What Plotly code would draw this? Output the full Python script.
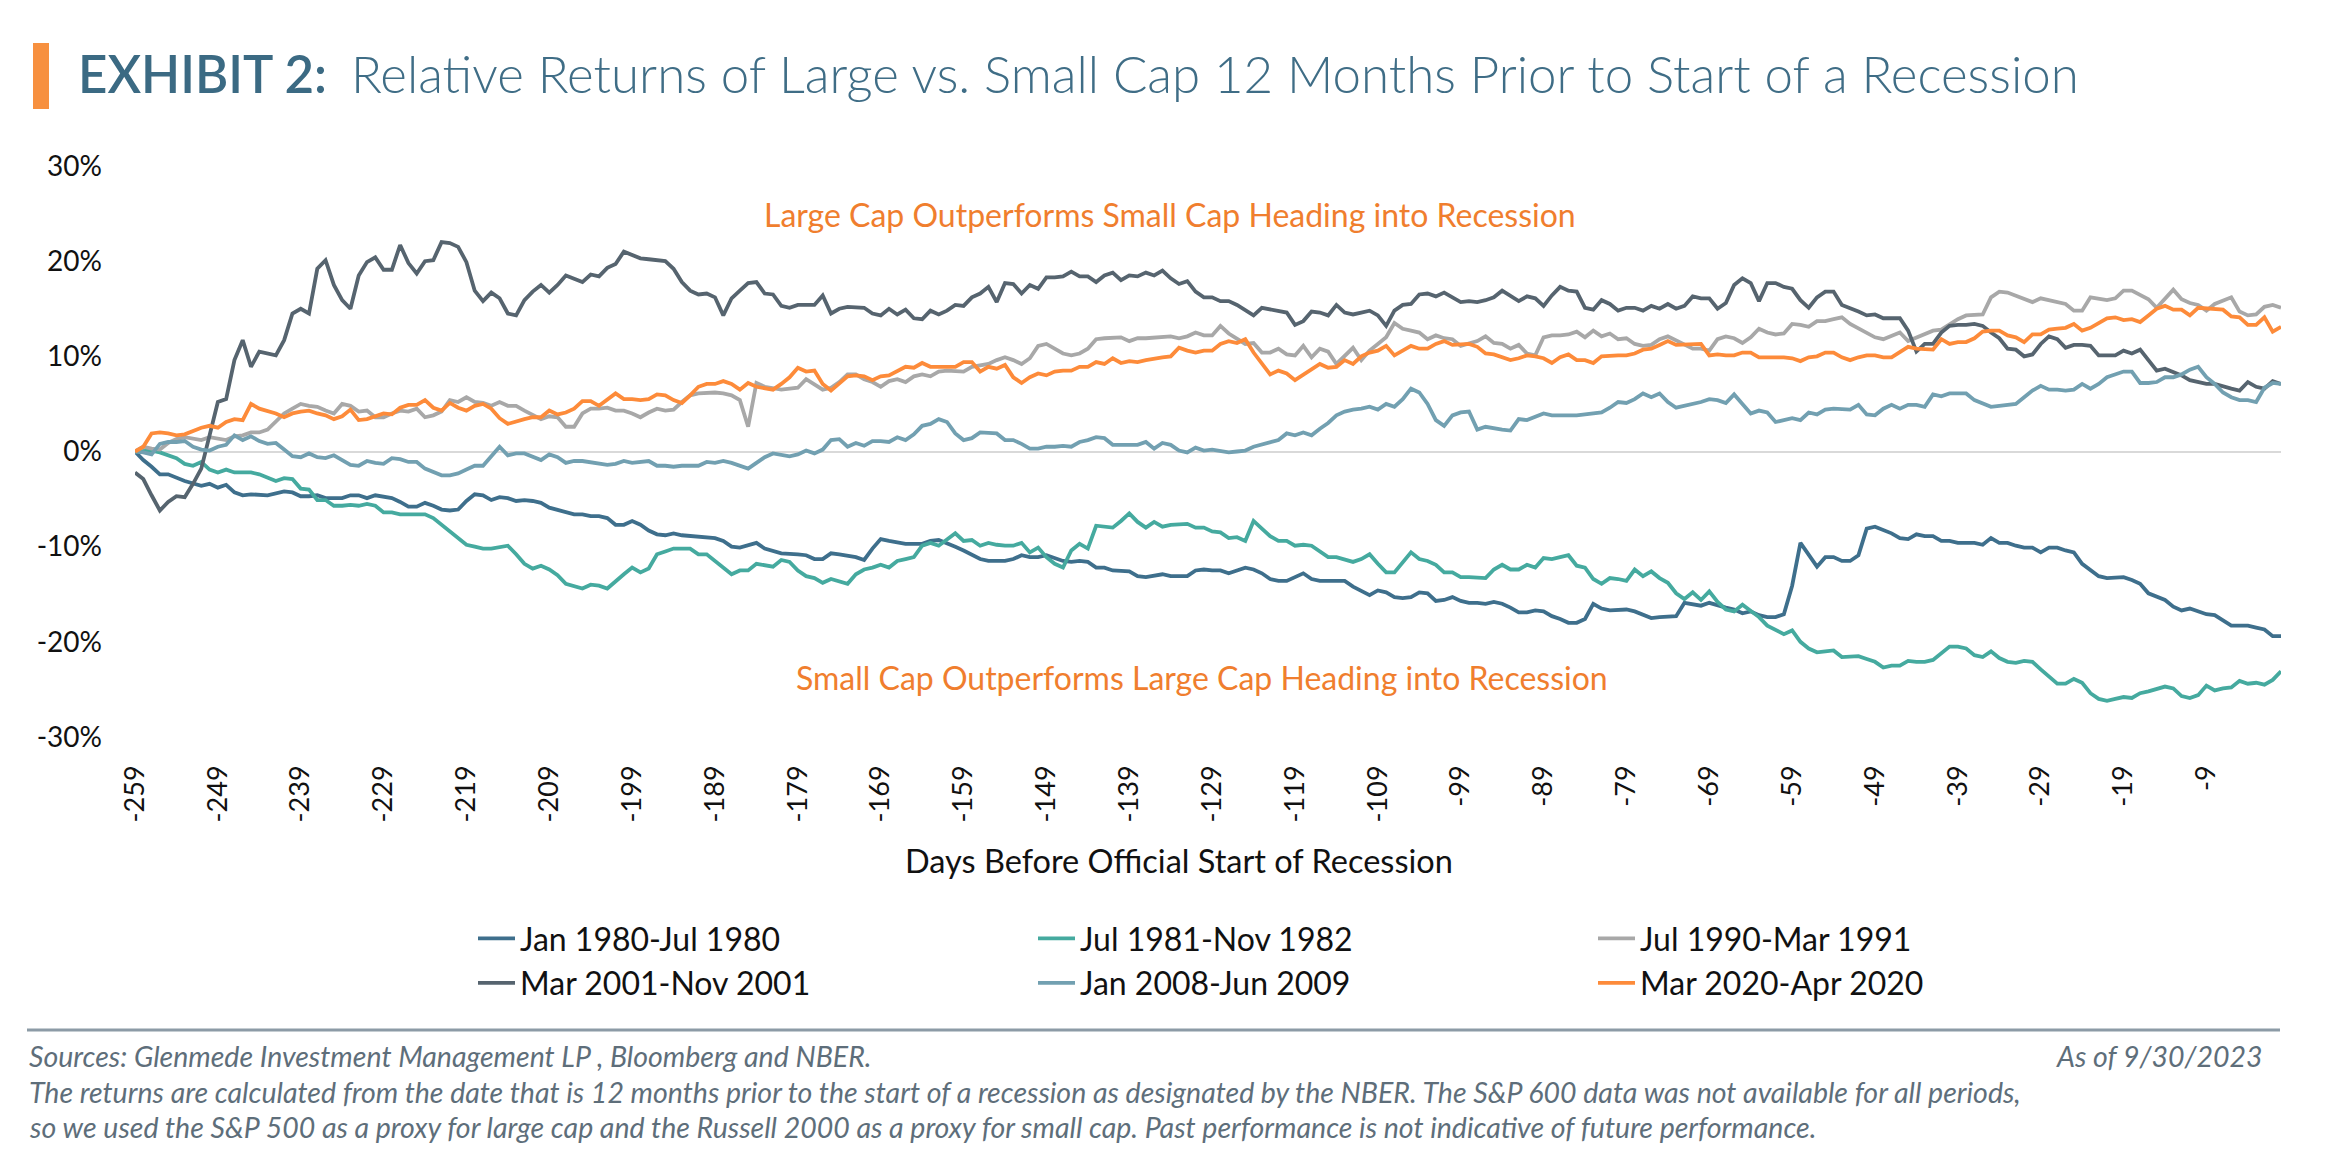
import plotly.graph_objects as go

# ---------------- data (relative return, % ; day before recession start) ----------------
jan1980 = [(-259,0.0),(-258,-0.9),(-257,-1.6),(-256,-2.4),(-255,-2.4),(-253,-3.1),(-251,-3.6),(-250,-3.4),(-249,-3.8),(-248,-3.5),
(-247,-4.3),(-246,-4.6),(-245,-4.5),(-244,-4.5),(-243,-4.6),(-241,-4.2),(-240,-4.3),(-239,-4.7),(-238,-4.7),(-237,-4.6),
(-236,-4.9),(-234,-4.9),(-233,-4.6),(-232,-4.6),(-231,-4.9),(-230,-4.6),(-229,-4.8),(-228,-4.9),(-227,-5.3),(-226,-5.8),
(-225,-5.8),(-224,-5.4),(-223,-5.7),(-222,-6.1),(-221,-6.2),(-220,-6.1),(-219,-5.2),(-218,-4.5),(-217,-4.6),(-216,-5.1),
(-215,-4.8),(-214,-4.9),(-213,-5.2),(-212,-5.1),(-211,-5.2),(-210,-5.4),(-209,-5.9),(-207,-6.4),(-206,-6.6),(-205,-6.6),
(-204,-6.8),(-203,-6.8),(-202,-7.0),(-201,-7.7),(-200,-7.7),(-199,-7.3),(-198,-7.7),(-197,-8.3),(-196,-8.7),(-195,-8.8),
(-194,-8.6),(-193,-8.8),(-191,-8.9),(-189,-9.1),(-188,-9.4),(-187,-10.0),(-186,-10.1),(-185,-9.9),(-184,-9.6),(-183,-10.2),
(-181,-10.7),(-179,-10.8),(-178,-10.9),(-177,-11.3),(-176,-11.3),(-175,-10.7),(-174,-10.8),(-172,-11.1),(-171,-11.4),(-170,-10.2),
(-169,-9.2),(-168,-9.4),(-167,-9.6),(-166,-9.7),(-164,-9.7),(-163,-9.4),(-162,-9.3),(-161,-9.6),(-160,-10.0),(-159,-10.4),
(-158,-10.9),(-157,-11.3),(-156,-11.5),(-154,-11.5),(-153,-11.3),(-152,-10.9),(-151,-11.1),(-150,-11.1),(-149,-10.9),(-148,-11.2),
(-147,-11.5),(-146,-11.6),(-145,-11.5),(-144,-11.6),(-143,-12.2),(-142,-12.2),(-141,-12.5),(-139,-12.6),(-138,-13.1),(-137,-13.2),
(-136,-13.1),(-135,-12.9),(-134,-13.1),(-132,-13.1),(-131,-12.5),(-130,-12.4),(-129,-12.5),(-128,-12.5),(-127,-12.8),(-126,-12.5),
(-125,-12.2),(-124,-12.4),(-123,-12.8),(-122,-13.4),(-121,-13.6),(-120,-13.6),(-119,-13.2),(-118,-12.8),(-117,-13.4),(-116,-13.6),
(-114,-13.6),(-113,-13.6),(-112,-14.2),(-111,-14.7),(-110,-15.1),(-109,-14.6),(-108,-14.8),(-107,-15.3),(-106,-15.4),(-105,-15.3),
(-104,-14.8),(-103,-14.9),(-102,-15.7),(-101,-15.6),(-100,-15.3),(-99,-15.7),(-98,-15.9),(-97,-15.9),(-96,-16.0),(-95,-15.8),
(-94,-16.0),(-93,-16.4),(-92,-16.9),(-91,-16.9),(-90,-16.7),(-89,-16.8),(-88,-17.3),(-87,-17.6),(-86,-18.0),(-85,-18.0),
(-84,-17.6),(-83,-16.0),(-82,-16.5),(-81,-16.7),(-80,-16.7),(-79,-16.6),(-78,-16.8),(-77,-17.2),(-76,-17.5),(-75,-17.4),
(-74,-17.3),(-73,-17.3),(-72,-15.9),(-71,-16.1),(-70,-16.2),(-69,-15.9),(-68,-16.2),(-67,-16.4),(-66,-16.6),(-65,-17.0),
(-64,-16.8),(-63,-17.2),(-62,-17.4),(-61,-17.4),(-60,-17.1),(-59,-14.1),(-58,-9.6),(-57,-10.9),(-56,-12.1),(-55,-11.1),
(-54,-11.1),(-53,-11.5),(-52,-11.5),(-51,-10.9),(-50,-8.1),(-49,-7.9),(-48,-8.2),(-47,-8.6),(-46,-9.1),(-45,-9.2),
(-44,-8.7),(-43,-8.9),(-42,-8.9),(-41,-9.4),(-40,-9.4),(-39,-9.6),(-38,-9.6),(-37,-9.6),(-36,-9.8),(-35,-9.1),
(-34,-9.6),(-33,-9.6),(-32,-9.9),(-31,-10.1),(-30,-10.1),(-29,-10.6),(-28,-10.1),(-27,-10.1),(-26,-10.4),(-25,-10.6),
(-24,-11.8),(-23,-12.4),(-22,-13.1),(-21,-13.3),(-20,-13.3),(-19,-13.2),(-18,-13.5),(-17,-13.9),(-16,-14.9),(-15,-15.3),
(-14,-15.6),(-13,-16.3),(-12,-16.7),(-11,-16.5),(-10,-16.8),(-9,-17.1),(-8,-17.2),(-7,-17.7),(-6,-18.3),(-5,-18.3),
(-4,-18.3),(-3,-18.5),(-2,-18.7),(-1,-19.4),(0,-19.4)]

jul1981 = [(-259,0.0),(-258,0.1),(-257,0.1),(-256,-0.1),(-255,-0.4),(-254,-0.7),(-253,-1.3),(-252,-1.5),(-251,-1.1),(-250,-1.9),
(-249,-2.2),(-248,-1.9),(-247,-2.2),(-246,-2.2),(-245,-2.2),(-244,-2.4),(-243,-2.8),(-242,-3.1),(-241,-2.8),(-240,-2.9),
(-239,-3.9),(-238,-4.0),(-237,-5.1),(-236,-5.1),(-235,-5.7),(-234,-5.7),(-233,-5.6),(-232,-5.7),(-231,-5.5),(-230,-5.7),
(-229,-6.4),(-228,-6.4),(-227,-6.6),(-226,-6.6),(-225,-6.6),(-224,-6.6),(-223,-7.0),(-222,-7.7),(-221,-8.5),(-220,-9.1),
(-219,-9.8),(-218,-10.0),(-217,-10.2),(-216,-10.2),(-215,-10.1),(-214,-9.9),(-213,-10.8),(-212,-11.8),(-211,-12.3),(-210,-12.0),
(-209,-12.4),(-208,-13.0),(-207,-13.9),(-206,-14.1),(-205,-14.4),(-204,-14.0),(-203,-14.1),(-202,-14.4),(-201,-13.6),(-200,-12.9),
(-199,-12.2),(-198,-12.7),(-197,-12.3),(-196,-10.8),(-195,-10.5),(-194,-10.2),(-192,-10.2),(-191,-10.8),(-190,-10.8),(-189,-11.5),
(-188,-12.3),(-187,-12.9),(-186,-12.5),(-185,-12.5),(-184,-11.8),(-183,-12.0),(-182,-12.1),(-181,-11.4),(-180,-11.6),(-179,-12.5),
(-178,-13.1),(-177,-13.3),(-176,-13.8),(-175,-13.4),(-174,-13.6),(-173,-13.9),(-172,-12.9),(-171,-12.4),(-170,-12.2),(-169,-11.9),
(-168,-12.2),(-167,-11.5),(-166,-11.3),(-165,-11.1),(-164,-9.9),(-163,-9.6),(-162,-9.9),(-161,-9.2),(-160,-8.6),(-159,-9.4),
(-158,-9.3),(-157,-9.9),(-156,-9.6),(-155,-9.8),(-154,-9.9),(-153,-9.9),(-152,-9.6),(-151,-10.6),(-150,-10.1),(-149,-11.1),
(-148,-11.8),(-147,-12.2),(-146,-10.4),(-145,-9.7),(-144,-10.2),(-143,-7.8),(-142,-7.9),(-141,-8.0),(-140,-7.3),(-139,-6.5),
(-138,-7.4),(-137,-8.0),(-136,-7.4),(-135,-7.9),(-134,-7.7),(-132,-7.6),(-131,-8.0),(-130,-8.0),(-129,-8.4),(-128,-8.5),
(-127,-9.1),(-126,-9.0),(-125,-9.4),(-124,-7.3),(-123,-8.1),(-122,-8.9),(-121,-9.4),(-120,-9.4),(-119,-9.9),(-118,-9.8),
(-117,-9.9),(-116,-10.5),(-115,-11.1),(-114,-11.1),(-113,-11.3),(-112,-11.6),(-111,-11.3),(-110,-10.8),(-109,-11.8),(-108,-12.7),
(-107,-12.7),(-106,-11.6),(-105,-10.6),(-104,-11.3),(-103,-11.5),(-102,-11.9),(-101,-12.7),(-100,-12.7),(-99,-13.2),(-98,-13.2),
(-97,-13.3),(-96,-13.3),(-95,-12.4),(-94,-11.9),(-93,-12.4),(-92,-12.4),(-91,-11.9),(-90,-12.2),(-89,-11.2),(-88,-11.3),
(-87,-11.1),(-86,-10.9),(-85,-12.0),(-84,-12.2),(-83,-13.4),(-82,-13.9),(-81,-13.3),(-80,-13.4),(-79,-13.6),(-78,-12.4),
(-77,-13.1),(-76,-12.6),(-75,-13.3),(-74,-13.8),(-73,-14.9),(-72,-15.5),(-71,-14.8),(-70,-15.6),(-69,-14.7),(-68,-15.8),
(-67,-16.6),(-66,-16.8),(-65,-16.1),(-64,-16.7),(-63,-17.4),(-62,-18.3),(-61,-18.7),(-60,-19.2),(-59,-18.8),(-58,-20.0),
(-57,-20.7),(-56,-21.1),(-55,-21.0),(-54,-20.9),(-53,-21.6),(-52,-21.6),(-51,-21.5),(-50,-21.8),(-49,-22.1),(-48,-22.7),
(-47,-22.5),(-46,-22.5),(-45,-22.0),(-44,-22.1),(-43,-22.1),(-42,-21.9),(-41,-21.2),(-40,-20.5),(-39,-20.5),(-38,-20.7),
(-37,-21.4),(-36,-21.6),(-35,-21.0),(-34,-21.7),(-33,-22.1),(-32,-22.2),(-31,-22.0),(-30,-22.1),(-29,-22.9),(-28,-23.6),
(-27,-24.4),(-26,-24.4),(-25,-23.9),(-24,-24.3),(-23,-25.4),(-22,-26.0),(-21,-26.2),(-20,-26.0),(-19,-25.8),(-18,-25.9),
(-17,-25.4),(-16,-25.2),(-15,-24.9),(-14,-24.7),(-13,-24.9),(-12,-25.7),(-11,-25.9),(-10,-25.6),(-9,-24.6),(-8,-25.1),
(-7,-24.9),(-6,-24.8),(-5,-24.1),(-4,-24.4),(-3,-24.3),(-2,-24.5),(-1,-24.0),(0,-23.1)]

jul1990 = [(-259,0.0),(-258,0.5),(-257,0.3),(-256,0.2),(-255,0.9),(-254,1.3),(-253,1.5),(-252,1.3),(-251,1.2),(-250,1.5),
(-249,1.3),(-248,1.2),(-247,1.6),(-246,1.7),(-245,2.0),(-244,2.0),(-243,2.3),(-242,3.2),(-241,4.0),(-240,4.5),
(-239,5.0),(-238,4.8),(-237,4.7),(-236,4.3),(-235,4.0),(-234,5.0),(-233,4.8),(-232,4.2),(-231,4.3),(-230,3.6),
(-229,3.6),(-228,4.0),(-227,4.3),(-226,4.2),(-225,4.5),(-224,3.6),(-223,3.8),(-222,4.2),(-221,5.4),(-220,5.2),
(-219,5.7),(-218,5.2),(-217,5.1),(-216,4.8),(-215,5.2),(-214,4.8),(-213,4.8),(-212,4.3),(-211,3.8),(-210,3.4),
(-209,3.7),(-208,3.6),(-207,2.6),(-206,2.6),(-205,4.0),(-204,4.5),(-203,4.5),(-202,4.6),(-201,4.3),(-200,4.3),
(-199,4.0),(-198,3.6),(-197,4.1),(-196,4.5),(-195,4.3),(-194,4.4),(-193,5.2),(-192,5.9),(-191,6.1),(-190,6.2),
(-189,6.2),(-188,6.1),(-187,5.9),(-186,5.4),(-185,2.6),(-184,7.2),(-183,6.8),(-181,6.5),(-180,6.6),(-179,6.7),
(-178,7.6),(-177,7.1),(-176,6.5),(-175,6.7),(-174,7.3),(-173,8.1),(-172,8.1),(-171,7.6),(-170,7.3),(-169,6.8),
(-168,7.4),(-167,7.6),(-166,7.3),(-165,7.9),(-164,8.1),(-163,7.9),(-162,8.4),(-161,8.5),(-160,8.5),(-159,8.4),
(-158,8.9),(-157,9.1),(-156,9.2),(-155,9.6),(-154,9.9),(-153,9.6),(-152,9.2),(-151,9.8),(-150,11.1),(-149,11.3),
(-148,10.8),(-147,10.3),(-146,10.1),(-145,10.3),(-144,10.8),(-143,11.8),(-142,11.9),(-141,12.0),(-140,12.0),(-139,11.6),
(-138,11.9),(-137,11.9),(-136,12.0),(-135,12.1),(-134,12.1),(-133,11.9),(-132,12.1),(-131,12.5),(-130,12.2),(-129,12.2),
(-128,13.2),(-127,12.4),(-126,11.9),(-125,11.3),(-124,11.4),(-123,10.4),(-122,10.4),(-121,10.8),(-120,10.2),(-119,10.1),
(-118,11.1),(-117,9.9),(-116,10.8),(-115,10.5),(-114,9.2),(-113,10.1),(-112,10.9),(-111,9.6),(-110,10.6),(-109,11.3),
(-108,12.0),(-107,13.5),(-106,12.9),(-105,12.7),(-104,12.5),(-103,11.8),(-102,12.2),(-101,11.9),(-100,11.8),(-99,11.1),
(-98,11.4),(-97,11.6),(-96,12.1),(-95,11.4),(-94,11.3),(-93,10.8),(-92,11.2),(-91,10.3),(-90,10.1),(-89,12.0),
(-88,12.2),(-87,12.2),(-86,12.3),(-85,12.6),(-84,12.0),(-83,12.7),(-82,12.1),(-81,12.4),(-80,11.8),(-79,11.9),
(-78,11.3),(-77,11.1),(-76,11.2),(-75,11.8),(-74,12.1),(-73,11.7),(-72,11.3),(-71,10.8),(-70,10.8),(-69,10.6),
(-68,11.8),(-67,12.1),(-66,11.9),(-65,11.4),(-64,12.0),(-63,12.9),(-62,12.5),(-61,12.3),(-60,12.4),(-59,13.4),
(-58,13.3),(-57,13.1),(-56,13.7),(-55,13.7),(-54,13.9),(-53,14.1),(-52,13.4),(-51,12.9),(-50,12.4),(-49,12.0),
(-48,11.8),(-47,12.2),(-46,12.5),(-45,11.6),(-44,12.0),(-43,12.4),(-42,12.7),(-41,12.8),(-40,13.4),(-39,13.9),
(-38,14.3),(-37,14.4),(-36,14.4),(-35,16.2),(-34,16.8),(-33,16.7),(-32,16.4),(-31,16.0),(-30,15.7),(-29,16.1),
(-28,15.9),(-27,15.8),(-26,15.5),(-25,14.8),(-24,14.8),(-23,16.2),(-22,16.0),(-21,15.9),(-20,16.1),(-19,16.9),
(-18,16.9),(-17,16.5),(-16,16.0),(-15,15.1),(-14,16.0),(-13,17.0),(-12,16.0),(-11,15.6),(-10,15.4),(-9,14.8),
(-8,15.5),(-7,15.8),(-6,16.2),(-5,14.7),(-4,14.3),(-3,14.4),(-2,15.2),(-1,15.4),(0,15.1)]

mar2001 = [(-259,-2.2),(-258,-2.9),(-257,-4.6),(-256,-6.2),(-255,-5.3),(-254,-4.7),(-253,-4.8),(-252,-3.4),(-251,-1.8),(-250,1.9),
(-249,5.2),(-248,5.5),(-247,9.6),(-246,11.7),(-245,8.9),(-244,10.5),(-242,10.1),(-241,11.7),(-240,14.5),(-239,15.0),
(-238,14.5),(-237,19.2),(-236,20.1),(-235,17.5),(-234,15.9),(-233,15.0),(-232,18.5),(-231,19.9),(-230,20.4),(-229,19.1),
(-228,19.1),(-227,21.7),(-226,19.8),(-225,18.7),(-224,20.0),(-223,20.1),(-222,22.0),(-221,21.9),(-220,21.5),(-219,19.9),
(-218,16.9),(-217,15.8),(-216,16.7),(-215,16.1),(-214,14.5),(-213,14.3),(-212,15.9),(-211,16.8),(-210,17.5),(-209,16.7),
(-208,17.5),(-207,18.5),(-206,18.1),(-205,17.8),(-204,18.6),(-203,18.4),(-202,19.3),(-201,19.7),(-200,21.0),(-199,20.7),
(-198,20.3),(-197,20.2),(-196,20.1),(-195,20.0),(-194,19.2),(-193,17.8),(-192,16.9),(-191,16.5),(-190,16.6),(-189,16.2),
(-188,14.3),(-187,16.1),(-186,16.9),(-185,17.7),(-184,17.8),(-183,16.6),(-182,16.5),(-181,15.3),(-180,15.1),(-179,15.4),
(-177,15.4),(-176,16.4),(-175,14.5),(-174,15.0),(-173,15.2),(-171,15.1),(-170,14.5),(-169,14.3),(-168,15.0),(-167,14.4),
(-166,14.9),(-165,14.0),(-164,13.9),(-163,14.8),(-162,14.4),(-161,14.8),(-160,15.4),(-159,15.3),(-158,16.2),(-157,16.6),
(-156,17.3),(-155,15.7),(-154,17.7),(-153,17.6),(-152,16.6),(-151,17.5),(-150,17.1),(-149,18.3),(-148,18.3),(-147,18.4),
(-146,18.9),(-145,18.4),(-144,18.4),(-143,17.8),(-142,18.5),(-141,18.8),(-140,18.0),(-139,18.5),(-138,18.4),(-137,18.8),
(-136,18.5),(-135,19.0),(-134,18.2),(-133,17.6),(-132,17.9),(-131,16.8),(-130,16.2),(-129,16.2),(-128,15.8),(-127,15.8),
(-126,15.4),(-125,14.8),(-124,14.3),(-123,15.1),(-122,14.9),(-121,14.7),(-120,14.6),(-119,13.3),(-118,13.7),(-117,14.7),
(-116,14.6),(-115,14.3),(-114,15.4),(-113,14.6),(-112,14.4),(-111,14.6),(-110,14.8),(-109,14.3),(-108,13.2),(-107,14.8),
(-106,15.4),(-105,15.5),(-104,16.5),(-103,16.6),(-102,16.3),(-101,16.7),(-100,16.2),(-99,15.7),(-98,15.8),(-97,15.7),
(-96,15.9),(-95,16.2),(-94,16.9),(-93,16.4),(-92,15.8),(-91,16.3),(-90,16.1),(-89,15.3),(-88,16.4),(-87,17.3),
(-86,16.9),(-85,16.8),(-84,15.1),(-83,14.9),(-82,15.9),(-81,15.5),(-80,14.8),(-79,15.1),(-78,15.1),(-77,14.8),
(-76,15.3),(-75,15.0),(-74,15.5),(-73,15.0),(-72,15.3),(-71,16.3),(-70,16.1),(-69,16.1),(-68,15.0),(-67,15.6),
(-66,17.5),(-65,18.2),(-64,17.7),(-63,15.8),(-62,17.7),(-61,17.7),(-60,17.3),(-59,17.1),(-58,15.9),(-57,15.1),
(-56,16.2),(-55,16.8),(-54,16.8),(-53,15.4),(-52,15.1),(-51,14.7),(-50,14.3),(-49,14.4),(-48,14.0),(-47,14.0),
(-46,14.0),(-45,12.7),(-44,10.5),(-43,11.3),(-42,11.3),(-41,12.5),(-40,13.2),(-39,13.3),(-38,13.3),(-37,13.4),
(-36,13.2),(-35,12.5),(-34,11.9),(-33,10.8),(-32,10.7),(-31,10.0),(-30,10.2),(-29,11.3),(-28,12.1),(-27,11.8),
(-26,10.9),(-25,11.2),(-24,11.2),(-23,11.1),(-22,10.1),(-21,10.1),(-20,10.1),(-19,10.6),(-18,10.3),(-17,10.7),
(-16,9.6),(-15,8.5),(-14,8.7),(-13,8.4),(-12,8.0),(-11,7.5),(-10,7.3),(-9,7.1),(-8,7.1),(-7,6.8),
(-6,6.6),(-5,6.4),(-4,7.3),(-3,6.8),(-2,6.6),(-1,7.4),(0,7.1)]

jan2008 = [(-259,0.0),(-258,-0.1),(-257,-0.3),(-256,0.8),(-255,1.0),(-254,1.0),(-253,1.1),(-252,0.5),(-251,0.2),(-250,0.1),
(-249,0.5),(-248,0.7),(-247,1.7),(-246,1.2),(-245,1.6),(-244,1.1),(-243,0.8),(-242,0.9),(-241,0.2),(-240,-0.5),
(-239,-0.6),(-238,-0.2),(-237,-0.6),(-236,-0.7),(-235,-0.4),(-234,-0.9),(-233,-1.4),(-232,-1.5),(-231,-1.0),(-230,-1.2),
(-229,-1.3),(-228,-0.7),(-227,-0.8),(-226,-1.1),(-225,-1.1),(-224,-1.8),(-223,-2.1),(-222,-2.5),(-221,-2.5),(-220,-2.3),
(-219,-1.9),(-218,-1.5),(-217,-1.5),(-216,-0.5),(-215,0.5),(-214,-0.4),(-213,-0.2),(-212,-0.2),(-211,-0.6),(-210,-0.9),
(-209,-0.3),(-208,-0.6),(-207,-1.2),(-206,-1.0),(-205,-1.0),(-204,-1.1),(-203,-1.2),(-202,-1.4),(-201,-1.3),(-200,-1.0),
(-199,-1.2),(-198,-1.1),(-197,-1.0),(-196,-1.5),(-195,-1.5),(-194,-1.6),(-193,-1.5),(-191,-1.5),(-190,-1.1),(-189,-1.2),
(-188,-1.0),(-187,-1.2),(-186,-1.5),(-185,-1.8),(-184,-1.2),(-183,-0.6),(-182,-0.2),(-181,-0.4),(-180,-0.5),(-179,-0.3),
(-178,0.1),(-177,-0.2),(-176,0.2),(-175,1.2),(-174,1.3),(-173,0.5),(-172,0.9),(-171,0.6),(-170,1.1),(-169,1.1),
(-168,1.0),(-167,1.5),(-166,1.2),(-165,1.8),(-164,2.7),(-163,2.9),(-162,3.4),(-161,3.1),(-160,1.9),(-159,1.2),
(-158,1.4),(-157,2.0),(-156,1.9),(-155,1.9),(-154,1.2),(-153,1.2),(-152,0.8),(-151,0.3),(-150,0.3),(-149,0.5),
(-148,0.5),(-147,0.6),(-146,0.5),(-145,1.0),(-144,1.2),(-143,1.5),(-142,1.4),(-141,0.7),(-140,0.7),(-139,0.7),
(-138,0.7),(-137,1.0),(-136,0.3),(-135,0.9),(-134,0.7),(-133,0.1),(-132,-0.1),(-131,0.4),(-130,0.1),(-129,0.2),
(-128,0.1),(-127,-0.1),(-126,0.0),(-125,0.1),(-124,0.5),(-123,0.7),(-122,0.9),(-121,1.2),(-120,1.9),(-119,1.7),
(-118,2.0),(-117,1.7),(-116,2.4),(-115,3.0),(-114,3.8),(-113,4.2),(-112,4.4),(-111,4.5),(-110,4.7),(-109,4.4),
(-108,5.0),(-107,4.7),(-106,5.5),(-105,6.6),(-104,6.2),(-103,5.0),(-102,3.3),(-101,2.7),(-100,3.8),(-99,4.1),
(-98,4.2),(-97,2.3),(-96,2.6),(-95,2.4),(-94,2.3),(-93,2.2),(-92,3.4),(-91,3.3),(-90,3.6),(-89,4.0),
(-88,3.8),(-87,3.8),(-86,3.8),(-85,3.8),(-84,3.9),(-83,4.0),(-82,4.1),(-81,4.6),(-80,5.2),(-79,5.1),
(-78,5.5),(-77,6.1),(-76,5.7),(-75,6.1),(-74,5.2),(-73,4.6),(-72,4.8),(-71,4.9),(-70,5.2),(-69,5.5),
(-68,5.4),(-67,5.1),(-66,6.0),(-65,5.0),(-64,4.0),(-63,4.3),(-62,4.1),(-61,3.1),(-60,3.3),(-59,3.5),
(-58,3.3),(-57,4.1),(-56,3.9),(-55,4.4),(-54,4.5),(-53,4.5),(-52,4.4),(-51,4.9),(-50,3.9),(-49,3.8),
(-48,4.5),(-47,4.9),(-46,4.5),(-45,4.9),(-44,4.9),(-43,4.7),(-42,6.0),(-41,5.8),(-40,6.1),(-39,6.1),
(-38,6.1),(-37,5.4),(-36,5.0),(-35,4.7),(-34,4.8),(-33,4.9),(-32,5.0),(-31,5.7),(-30,6.4),(-29,6.9),
(-28,6.5),(-27,6.5),(-26,6.4),(-25,6.5),(-24,7.1),(-23,6.6),(-22,7.1),(-21,7.8),(-20,8.1),(-19,8.4),
(-18,8.4),(-17,7.2),(-16,7.2),(-15,7.3),(-14,7.8),(-13,7.8),(-12,8.1),(-11,8.6),(-10,8.9),(-9,7.8),
(-8,7.1),(-7,6.2),(-6,5.7),(-5,5.4),(-4,5.4),(-3,5.2),(-2,6.7),(-1,7.2),(0,7.1)]

mar2020 = [(-259,0.0),(-258,0.5),(-257,1.9),(-256,2.0),(-255,1.9),(-254,1.7),(-253,1.8),(-252,2.2),(-251,2.5),(-250,2.7),
(-249,2.5),(-248,3.1),(-247,3.4),(-246,3.3),(-245,5.0),(-244,4.5),(-243,4.3),(-242,4.0),(-241,3.6),(-240,4.0),
(-239,4.2),(-238,4.3),(-237,4.0),(-236,3.8),(-235,3.4),(-234,3.7),(-233,4.4),(-232,3.3),(-231,3.4),(-230,3.7),
(-229,4.0),(-228,3.9),(-227,4.6),(-226,4.9),(-225,4.9),(-224,5.4),(-223,4.6),(-222,4.3),(-221,5.1),(-220,4.6),
(-219,4.3),(-218,4.8),(-217,5.0),(-216,4.5),(-215,3.5),(-214,2.9),(-213,3.2),(-212,3.4),(-211,3.6),(-210,3.6),
(-209,4.3),(-208,3.9),(-207,4.1),(-206,4.5),(-205,5.3),(-204,5.3),(-203,4.8),(-202,5.4),(-201,6.1),(-200,5.5),
(-199,5.5),(-198,5.4),(-197,5.5),(-196,6.0),(-195,5.9),(-194,5.4),(-193,5.1),(-192,5.9),(-191,6.8),(-190,7.1),
(-189,7.1),(-188,7.4),(-187,7.1),(-186,6.5),(-185,7.2),(-184,6.8),(-183,6.6),(-182,6.5),(-181,7.1),(-180,7.8),
(-179,8.8),(-178,8.4),(-177,8.5),(-176,7.1),(-175,6.4),(-174,7.1),(-173,7.9),(-172,8.0),(-171,7.9),(-170,7.5),
(-169,7.9),(-168,8.0),(-167,8.4),(-166,8.9),(-165,8.8),(-164,9.3),(-163,8.9),(-162,8.9),(-161,8.9),(-160,8.9),
(-159,9.4),(-158,9.4),(-157,8.4),(-156,8.9),(-155,8.7),(-154,9.1),(-153,7.8),(-152,7.2),(-151,7.8),(-150,8.2),
(-149,8.0),(-148,8.4),(-147,8.5),(-146,8.5),(-145,8.9),(-144,8.9),(-143,9.4),(-142,9.2),(-141,9.8),(-140,9.3),
(-139,9.5),(-138,9.4),(-137,9.6),(-136,9.8),(-135,9.9),(-134,10.0),(-133,10.9),(-132,10.6),(-131,10.4),(-130,10.6),
(-129,10.6),(-128,11.3),(-127,11.6),(-126,11.4),(-125,11.8),(-124,10.4),(-123,9.2),(-122,8.1),(-121,8.5),(-120,8.2),
(-119,7.5),(-118,8.1),(-117,8.7),(-116,9.2),(-115,8.8),(-114,8.9),(-113,9.6),(-112,9.2),(-111,10.0),(-110,10.4),
(-109,10.6),(-108,11.1),(-107,10.1),(-106,10.6),(-105,11.1),(-104,10.8),(-103,10.8),(-102,11.3),(-101,11.6),(-100,11.2),
(-99,11.3),(-98,11.3),(-97,11.0),(-96,10.3),(-95,10.2),(-94,9.9),(-93,9.6),(-92,9.8),(-91,10.1),(-90,10.0),
(-89,9.8),(-88,9.3),(-87,9.9),(-86,10.2),(-85,9.6),(-84,9.6),(-83,9.3),(-82,10.0),(-81,10.1),(-80,10.1),
(-79,10.1),(-78,10.3),(-77,10.7),(-76,10.8),(-75,11.2),(-74,11.6),(-73,11.2),(-72,11.2),(-71,11.3),(-70,11.3),
(-69,10.1),(-68,10.2),(-67,10.1),(-66,10.1),(-65,10.4),(-64,10.4),(-63,9.9),(-62,9.9),(-61,10.0),(-60,9.9),
(-59,9.8),(-58,9.5),(-57,9.9),(-56,10.0),(-55,10.4),(-54,10.4),(-53,9.9),(-52,9.6),(-51,9.9),(-50,10.1),
(-49,10.1),(-48,9.9),(-47,9.9),(-46,10.5),(-45,11.0),(-44,10.8),(-43,10.7),(-42,10.7),(-41,11.8),(-40,11.3),
(-39,11.5),(-38,11.5),(-37,11.9),(-36,12.6),(-35,12.7),(-34,12.7),(-33,12.2),(-32,12.0),(-31,11.5),(-30,12.3),
(-29,12.3),(-28,12.8),(-27,12.9),(-26,13.0),(-25,13.4),(-24,12.7),(-23,13.0),(-22,13.5),(-21,14.0),(-20,14.1),
(-19,13.8),(-18,13.9),(-17,13.6),(-16,14.3),(-15,15.0),(-14,15.3),(-13,14.9),(-12,14.9),(-11,14.3),(-10,15.1),
(-9,15.0),(-8,14.9),(-7,14.9),(-6,14.2),(-5,14.1),(-4,13.3),(-3,13.3),(-2,14.1),(-1,12.6),(0,13.1)]

series_names = ["Jan 1980-Jul 1980", "Jul 1981-Nov 1982", "Jul 1990-Mar 1991",
                "Mar 2001-Nov 2001", "Jan 2008-Jun 2009", "Mar 2020-Apr 2020"]
series_data = [jan1980, jul1981, jul1990, mar2001, jan2008, mar2020]
series_colors = ["#3e6f8c", "#45aa9f", "#a8a8a8", "#56646f", "#72a0b1", "#fd8b3a"]

x_tick_vals = list(range(-259, 0, 10))
x_tick_text = [str(v) for v in x_tick_vals]
y_tick_vals = [-30, -20, -10, 0, 10, 20, 30]
y_tick_text = ["-30%", "-20%", "-10%", "0%", "10%", "20%", "30%"]

# ---------------- layout geometry (pixels) ----------------
W, H = 2326, 1164
L, R, T, B = 135, 2281, 166, 737
FONT = "Lato, 'Open Sans', sans-serif"

def px(x):
    return (x - L) / (R - L)

def py(y):
    return (B - y) / (B - T)

fig = go.Figure()
for name, pts, color in zip(series_names, series_data, series_colors):
    pts = sorted(pts)
    fig.add_trace(go.Scatter(
        x=[p[0] for p in pts], y=[p[1] for p in pts], mode="lines", name=name,
        line=dict(color=color, width=3.8), hoverinfo="skip"))

fig.update_layout(
    width=W, height=H,
    margin=dict(l=L, r=W - R, t=T, b=H - B, pad=0, autoexpand=False),
    paper_bgcolor="white", plot_bgcolor="white",
    font=dict(family=FONT, color="#111111"),
    showlegend=True,
    legend=dict(orientation="h", x=px(473), y=py(911), xanchor="left", yanchor="top",
                font=dict(family=FONT, size=32, color="#111111"),
                entrywidth=508, entrywidthmode="pixels", itemwidth=37,
                tracegroupgap=0, bgcolor="rgba(0,0,0,0)"),
    xaxis=dict(range=[-259, 0], tickmode="array", tickvals=x_tick_vals, ticktext=x_tick_text,
               tickangle=-90, showgrid=False, zeroline=False, showline=False, ticks="",
               tickfont=dict(family=FONT, size=27, color="#111111"), ticklabelstandoff=22),
    yaxis=dict(range=[-30, 30], tickmode="array", tickvals=y_tick_vals, ticktext=y_tick_text,
               showgrid=False, zeroline=True, zerolinecolor="#d9d9d9", zerolinewidth=2,
               showline=False, ticks="",
               tickfont=dict(family=FONT, size=28, color="#111111"), ticklabelstandoff=32),
)

annotations = [
    dict(text="EXHIBIT 2:", x=px(76), y=py(73), xanchor="left", yanchor="middle",
         font=dict(family=FONT, size=51, color="#3b6a83", weight=600)),
    dict(text="Relative Returns of Large vs. Small Cap 12 Months Prior to Start of a Recession",
         x=px(349), y=py(73), xanchor="left", yanchor="middle",
         font=dict(family=FONT, size=51, color="#3f6d86", weight=300)),
    dict(text="Large Cap Outperforms Small Cap Heading into Recession", x=px(1170), y=py(214),
         xanchor="center", yanchor="middle", font=dict(family=FONT, size=32, color="#f07e2e")),
    dict(text="Small Cap Outperforms Large Cap Heading into Recession", x=px(1202), y=py(677),
         xanchor="center", yanchor="middle", font=dict(family=FONT, size=32, color="#f07e2e")),
    dict(text="Days Before Official Start of Recession", x=px(1179), y=py(860),
         xanchor="center", yanchor="middle", font=dict(family=FONT, size=32.5, color="#111111")),
    dict(text="<i>Sources: Glenmede Investment Management LP , Bloomberg and NBER.</i>", x=px(27), y=py(1056),
         xanchor="left", yanchor="middle", font=dict(family=FONT, size=28.5, color="#5e6e7a")),
    dict(text="<i>As of 9/30/2023</i>", x=px(2265), y=py(1056),
         xanchor="right", yanchor="middle", font=dict(family=FONT, size=28.5, color="#5e6e7a")),
    dict(text="<i>The returns are calculated from the date that is 12 months prior to the start of a recession as designated by the NBER. The S&P 600 data was not available for all periods,</i>",
         x=px(27), y=py(1092), xanchor="left", yanchor="middle", font=dict(family=FONT, size=28.5, color="#5e6e7a")),
    dict(text="<i>so we used the S&P 500 as a proxy for large cap and the Russell 2000 as a proxy for small cap. Past performance is not indicative of future performance.</i>",
         x=px(27), y=py(1127), xanchor="left", yanchor="middle", font=dict(family=FONT, size=28.5, color="#5e6e7a")),
]
for a in annotations:
    a.update(xref="paper", yref="paper", showarrow=False)
fig.update_layout(annotations=annotations)

fig.update_layout(shapes=[
    dict(type="rect", xref="paper", yref="paper", x0=px(33), x1=px(49), y0=py(109), y1=py(43),
         fillcolor="#f7903f", line=dict(width=0)),
    dict(type="line", xref="paper", yref="paper", x0=px(27), x1=px(2280), y0=py(1030), y1=py(1030),
         line=dict(color="#8c9ba6", width=3)),
])

fig.write_html("out.html", config={"displayModeBar": False},
               post_script="document.body.style.margin='0px';document.body.style.padding='0px';")
